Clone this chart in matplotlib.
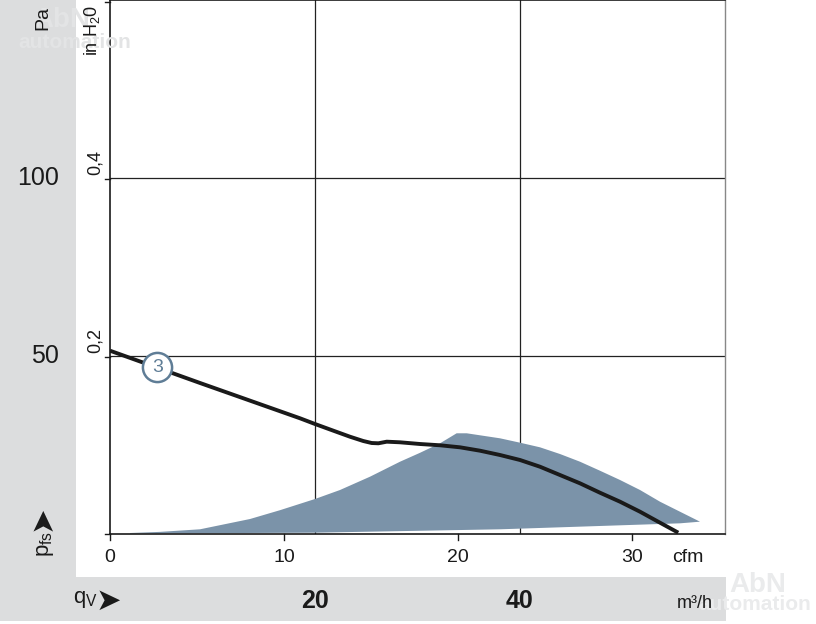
import matplotlib
matplotlib.use("Agg")
import matplotlib.pyplot as plt
from matplotlib.patches import Rectangle
import matplotlib.font_manager as fm

names = {f.name for f in fm.fontManager.ttflist}
FAM = ['Liberation Sans Narrow', 'Liberation Sans', 'DejaVu Sans'] if 'Liberation Sans Narrow' in names else ['Liberation Sans', 'DejaVu Sans']
plt.rcParams['font.family'] = FAM
plt.rcParams['mathtext.fontset'] = 'custom'
plt.rcParams['mathtext.rm'] = FAM[0]

# ---- data (x in m³/h, y in Pa) ----
curve_q = [0, 8.78, 18.54, 20.0, 21.79, 23.41, 24.71, 25.53, 26.18, 27.0, 28.29, 30.24, 32.2,
           34.15, 36.1, 38.05, 40.0, 41.95, 43.9, 45.85, 47.8, 49.76, 51.71, 53.66, 55.44]
curve_p = [51.49, 42.42, 32.5, 30.9, 29.02, 27.33, 26.12, 25.56, 25.48, 25.93, 25.76, 25.28, 24.92,
           24.35, 23.4, 22.19, 20.79, 18.9, 16.57, 14.24, 11.6, 9.07, 6.26, 3.17, 0.37]

area_top_q = [1.95, 4.9, 8.78, 13.66, 16.6, 20.0, 22.44, 25.37, 28.29, 30.24, 32.2, 33.82, 34.8,
              38.05, 40.0, 41.95, 43.9, 45.85, 47.8, 49.76, 51.71, 53.66, 55.61, 57.56]
area_top_p = [0.28, 0.6, 1.32, 4.21, 6.7, 9.83, 12.36, 16.1, 20.3, 22.8, 25.48, 28.29, 28.29,
              26.88, 25.65, 24.35, 22.47, 20.31, 17.78, 15.17, 12.36, 9.07, 6.26, 3.46]
area_bot_q = [57.56, 55.61, 38.05, 20.0, 1.95]
area_bot_p = [3.46, 3.0, 1.32, 0.37, 0.14]

pa_ticks = [50, 100]
m3h_ticks = [20, 40]
cfm_ticks = [0, 10, 20, 30]
inh2o_ticks = [0.2, 0.4]
CFM = 1.699
INH2O = 249.09

W, H = 816, 624
fig = plt.figure(figsize=(W / 100, H / 100), dpi=100)
fig.patch.set_facecolor('white')
grey = '#dcddde'

def px(x, y, w, h):
    return Rectangle((x / W, 1 - (y + h) / H), w / W, h / H, transform=fig.transFigure,
                     facecolor=grey, edgecolor='none', zorder=0)

fig.patches.append(px(0, 0, 76, 577))
fig.patches.append(px(0, 577, 726, 44))

x0, x1, y0, y1 = 110, 725, 0, 534
ax = fig.add_axes([x0 / W, 1 - y1 / H, (x1 - x0) / W, (y1 - y0) / H])
ax.set_xlim(0, 60)
ax.set_ylim(0, 150)
ax.set_facecolor('white')

for g in m3h_ticks:
    ax.axvline(g, color='#222222', lw=0.9, zorder=1)
for g in pa_ticks:
    ax.axhline(g, color='#222222', lw=0.9, zorder=1)

ax.fill(area_top_q + area_bot_q, area_top_p + area_bot_p, color='#7b93a9', lw=0, zorder=2)
ax.plot(curve_q, curve_p, color='#1a1a1a', lw=2.8, solid_capstyle='butt', solid_joinstyle='round', zorder=3)

# curve label
ax.plot([4.61], [47.0], 'o', ms=21, mfc='white', mec='#5f7d96', mew=1.8, zorder=4)
ax.text(4.61, 46.8, '3', ha='center', va='center', fontsize=14, color='#5f7d96', zorder=5)

for s in ['left', 'bottom', 'top']:
    ax.spines[s].set_color('#1a1a1a')
    ax.spines[s].set_linewidth(1.2)
ax.spines['right'].set_color('#888888')
ax.spines['right'].set_linewidth(1.0)
ax.set_xticks([])
ax.set_yticks([])

# small ticks
for v in inh2o_ticks + [0.6]:
    ax.plot([-0.5, 0], [v * INH2O, v * INH2O], color='#1a1a1a', lw=1, clip_on=False)
ax.plot([-0.5, 0], [0, 0], color='#1a1a1a', lw=1, clip_on=False)
for c in cfm_ticks:
    ax.plot([c * CFM, c * CFM], [0, -1.6], color='#1a1a1a', lw=1, clip_on=False)

def ftxt(x, y, s, **kw):
    fig.text(x / W, 1 - y / H, s, **kw)

# faint watermark (drawn first, behind labels)
ftxt(62, 20, 'AbN', ha='center', va='center', fontsize=20, color='#e3e4e5', fontweight='bold')
ftxt(75, 42, 'automation', ha='center', va='center', fontsize=15, color='#e3e4e5', fontweight='bold')
ftxt(758, 585, 'AbN', ha='center', va='center', fontsize=20, color='#eaebec', fontweight='bold')
ftxt(755, 605, 'automation', ha='center', va='center', fontsize=15, color='#eaebec', fontweight='bold')

# left axis labels
for v in pa_ticks:
    ftxt(59, 534 - v * 3.56, str(v), ha='right', va='center', fontsize=18, color='#1a1a1a')
for v in inh2o_ticks:
    ftxt(95, 534 - v * INH2O * 3.56 - 4, f'{v:.1f}'.replace('.', ','), ha='center', va='bottom',
         rotation=90, fontsize=13, color='#1a1a1a')
ftxt(43, 18, 'Pa', ha='center', va='center', rotation=90, fontsize=14, color='#1a1a1a')
ftxt(92, 30, r'in H$_\mathrm{2}$0', ha='center', va='center', rotation=90, fontsize=13, color='#1a1a1a')
ftxt(42, 518, '➤', ha='center', va='center', fontsize=22, color='#1a1a1a', rotation=90,
     family=['DejaVu Sans'])
ftxt(45, 544, r'p$_\mathrm{fs}$', ha='center', va='center', rotation=90, fontsize=16, color='#1a1a1a')

# cfm labels
for c in cfm_ticks:
    ftxt(x0 + c * CFM * 10.25, 558, str(c), ha='center', va='center', fontsize=14, color='#1a1a1a')
ftxt(688, 558, 'cfm', ha='center', va='center', fontsize=14, color='#1a1a1a')

# m3/h labels
for v in m3h_ticks:
    ftxt(x0 + v * 10.25, 601, str(v), ha='center', va='center', fontsize=18, color='#1a1a1a',
         fontweight='bold')
ftxt(695, 603, 'm³/h', ha='center', va='center', fontsize=13, color='#1a1a1a')
ftxt(85, 600, r'q$_\mathrm{V}$', ha='center', va='center', fontsize=16, color='#1a1a1a')
ftxt(108, 601, '➤', ha='center', va='center', fontsize=22, color='#1a1a1a', family=['DejaVu Sans'])

fig.savefig('out.png', dpi=100, facecolor='white')
